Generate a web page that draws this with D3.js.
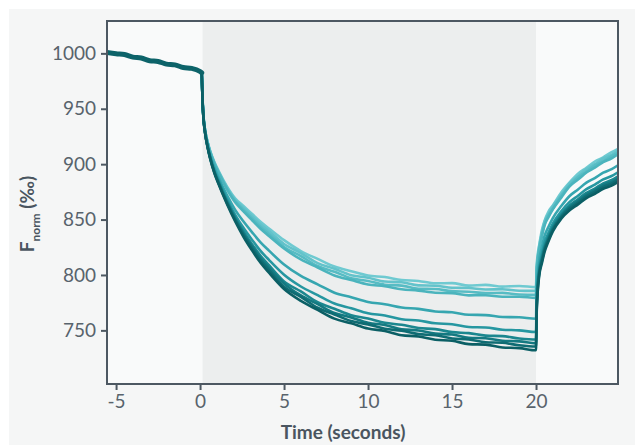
<!DOCTYPE html>
<html>
<head>
<meta charset="utf-8">
<script src="https://cdn.jsdelivr.net/npm/d3@7"></script>
<style>
  html, body { margin: 0; padding: 0; background: #fff; }
  svg { display: block; font-family: Lato, "Open Sans", sans-serif; }
</style>
</head>
<body>
<svg id="chart" width="635" height="445"></svg>
<script>
// MST traces, normalised fluorescence (per mille) over time

var xTicks = [-5, 0, 5, 10, 15, 20];
var yTicks = [750, 800, 850, 900, 950, 1000];

// heating window (IR laser on)
var shadeStart = 0.15,
    shadeEnd = 20;

// pre-heating part, all traces lie on top of each other here
var preTimes  = [-5.54, -5, -4.5, -4, -3.5, -3, -2.5, -2, -1.5, -1, -0.5, 0, 0.1];
var preValues = [1000.8, 999.6, 998.9, 996.6, 995.8, 993.4, 992.7, 990.3, 989.6, 987.2, 986.4, 983.6, 982.5];

// shared time points for the heating + recovery part
var times = [0.1, 0.15, 0.2, 0.3, 0.45, 0.6, 0.85, 1.1, 1.6, 2.1, 2.6, 3.1, 3.6, 4.1,
  5, 6, 7, 8, 9, 10, 11, 12, 13, 14, 15, 16, 17, 18, 19, 20,
  20.03, 20.1, 20.2, 20.35, 20.5, 20.75, 21, 21.5, 22, 22.5, 23, 23.5, 24, 24.5, 24.88];

// one trace per capillary, lightest first
var trace0 = [982, 958, 944, 931, 920, 912, 902, 894, 880, 869, 862, 855, 848, 842,
  831.4, 821.6, 814.5, 807.6, 803.4, 799.5, 798.1, 795.4, 794.6, 792.5, 792.6, 790.4, 791.1, 789.5, 790.1, 789,
  806, 818.5, 828, 840.5, 848.6, 857.4, 862.8, 874.5, 883.6, 891.4, 896.7, 902.4, 906.2, 910.8, 913.8];
var trace1 = [982, 957.9, 943.9, 930.8, 919.7, 911.6, 901.4, 893.3, 879, 867.7, 860.3, 853, 845.8, 839.6,
  828.0, 819.8, 810.7, 805.6, 799.8, 797.5, 794.1, 793.4, 790.6, 790.3, 788.5, 788.2, 786.9, 787.1, 785.7, 785.6,
  803.2, 815.6, 826.7, 837.9, 847.6, 855.1, 861.9, 872.2, 882.7, 889.1, 895.6, 900, 905.1, 908.4, 912.2];
var trace2 = [982, 957.8, 943.8, 930.6, 919.4, 911.2, 900.8, 892.6, 878.1, 866.5, 858.6, 851, 843.6, 837.2,
  825.3, 817.0, 808.1, 802.9, 797.0, 794.6, 791.2, 790.4, 787.6, 787.3, 785.4, 784.9, 783.6, 783.8, 782.4, 782.2,
  800.5, 814.3, 824.2, 836.8, 845.2, 854.2, 859.8, 871.5, 880.6, 888.1, 893.3, 898.9, 902.7, 907.3, 910.4];
var trace3 = [982, 957.7, 943.7, 930.5, 919.2, 910.8, 900.3, 892, 877.3, 865.4, 857.2, 849.4, 841.7, 835.2,
  823.9, 814.0, 806.7, 799.6, 795.4, 791.4, 789.8, 787.1, 785.9, 783.9, 783.6, 781.6, 781.7, 780.3, 780.4, 779.3,
  798.2, 812.1, 823.5, 834.8, 844.4, 852.3, 859.2, 869.8, 879.9, 886.1, 892.5, 896.9, 901.9, 905.2, 908.9];
var trace4 = [982, 957, 943, 929.5, 917.5, 908.5, 897, 888, 872, 858.5, 848, 838.5, 829.5, 822,
  809.4, 799.1, 791.5, 784.0, 779.9, 775.6, 773.6, 770.6, 769.4, 767.1, 766.3, 764.1, 763.8, 762.1, 761.8, 760.5,
  783, 801.2, 814.3, 825.2, 834.8, 843.7, 851.3, 862.2, 871.3, 877.2, 883.3, 887.5, 892.3, 895.5, 899];
var trace5 = [982, 956.6, 942.6, 928.9, 916.5, 907, 894.9, 885.5, 868.6, 854.1, 842.1, 831.6, 821.7, 813.6,
  800.2, 789.6, 781.8, 774.2, 770.0, 765.5, 763.5, 760.1, 758.9, 756.4, 755.5, 753.0, 752.6, 750.6, 750.0, 748.5,
  773.3, 794.3, 808.4, 819.1, 828.7, 838.2, 846.3, 857.4, 865.8, 871.5, 877.4, 881.5, 886.2, 889.3, 892.7];
var trace6 = [982, 956.3, 942.3, 928.5, 915.9, 906.2, 893.7, 884, 866.7, 851.6, 838.8, 827.6, 817.3, 808.8,
  794.1, 785.1, 775.4, 769.5, 763.6, 760.7, 756.8, 755.0, 752.1, 751.1, 748.4, 747.5, 745.3, 744.8, 742.7, 741.7,
  767.8, 790.3, 805.1, 815.6, 825.2, 835.1, 843.4, 854.6, 862.7, 868.3, 874.1, 878, 882.7, 885.7, 889.1];
var trace7 = [982, 956.2, 942.2, 928.3, 915.6, 905.8, 893.1, 883.3, 865.8, 850.3, 837.1, 825.6, 815.1, 806.4,
  792.2, 781.5, 773.6, 765.7, 761.7, 756.8, 754.8, 751.0, 749.9, 747.1, 746.2, 743.3, 742.9, 740.6, 740.1, 738.3,
  765.1, 788.3, 803.4, 813.9, 823.5, 833.6, 841.9, 853.2, 861.2, 866.7, 872.4, 876.3, 881, 883.9, 887.3];
var trace8 = [982, 956.1, 942.1, 928.2, 915.3, 905.4, 892.6, 882.7, 865, 849.3, 835.7, 824, 813.2, 804.4,
  789.3, 780.2, 770.4, 764.3, 758.4, 755.4, 751.5, 749.6, 746.6, 745.6, 742.7, 741.7, 739.3, 738.8, 736.5, 735.4,
  762.8, 786.7, 802, 812.4, 822, 832.3, 840.7, 852.1, 859.9, 865.3, 871, 874.9, 879.5, 882.5, 885.8];
var trace9 = [982, 956, 942, 928, 915, 905, 892, 882, 864, 848, 834, 822, 811, 802,
  787.3, 776.6, 768.5, 760.6, 756.4, 751.6, 749.5, 745.6, 744.5, 741.5, 740.6, 737.6, 737.1, 734.6, 734.0, 732,
  760, 784.7, 800.3, 810.7, 820.3, 830.7, 839.3, 850.7, 858.3, 863.7, 869.3, 873.2, 877.8, 880.7, 884];

var traces = [trace0, trace1, trace2, trace3, trace4, trace5, trace6, trace7, trace8, trace9];
var traceColors = ["#6fcad1", "#63c3cb", "#57bcc4", "#4bb4bd", "#36a6b0", "#2697a1",
                   "#1b878f", "#147981", "#0f6c73", "#0b5f65"];

var svg = d3.select("#chart");
var margin = {top: 21, right: 17, bottom: 61, left: 107};
var width = 635 - margin.left - margin.right,
    height = 445 - margin.top - margin.bottom;

// light grey card behind everything
svg.append("rect")
  .attr("x", 9).attr("y", 9)
  .attr("width", 635).attr("height", 436)
  .attr("fill", "#f5f6f6");

var x = d3.scaleLinear().domain([-5.54, 24.88]).range([0, width]);
var y = d3.scaleLinear().domain([701.6, 1029.2]).range([height, 0]);

var g = svg.append("g")
  .attr("transform", "translate(" + margin.left + "," + margin.top + ")");

g.append("rect")
  .attr("width", width).attr("height", height)
  .attr("fill", "#f9fafa");

g.append("rect")
  .attr("x", x(shadeStart)).attr("y", 0)
  .attr("width", x(shadeEnd) - x(shadeStart))
  .attr("height", height)
  .attr("fill", "#eceeee");

var line = d3.line()
  .x(d => x(d[0]))
  .y(d => y(d[1]))
  .curve(d3.curveMonotoneX);

g.append("clipPath").attr("id", "plotclip")
  .append("rect").attr("width", width).attr("height", height);

var plot = g.append("g").attr("clip-path", "url(#plotclip)");

traces.forEach(function(tr, i) {
  plot.append("path")
    .datum(times.map((t, j) => [t, tr[j]]))
    .attr("fill", "none")
    .attr("stroke", traceColors[i])
    .attr("stroke-width", 2.6)
    .attr("stroke-linejoin", "round")
    .attr("d", line);
});

plot.append("path")
  .datum(preTimes.map((t, j) => [t, preValues[j]]))
  .attr("fill", "none")
  .attr("stroke", "#0d6369")
  .attr("stroke-width", 5)
  .attr("stroke-linecap", "round")
  .attr("d", line);

// axes
var frameColor = "#4d5862";
var plain = d => String(d);   // "-5" with a hyphen, "1000" without comma
var xAxis = g.append("g")
  .attr("transform", "translate(0," + height + ")")
  .call(d3.axisBottom(x).tickValues(xTicks).tickFormat(plain).tickSize(6).tickPadding(5));
var yAxis = g.append("g")
  .call(d3.axisLeft(y).tickValues(yTicks).tickFormat(plain).tickSize(6).tickPadding(5));

[xAxis, yAxis].forEach(function(ax) {
  ax.select(".domain").remove();
  ax.selectAll("line").attr("stroke", frameColor).attr("stroke-width", 2);
  ax.selectAll("text")
    .attr("fill", "#58636c")
    .style("font-size", "19px")
    .style("font-family", "Lato, sans-serif");
});

g.append("rect")
  .attr("width", width).attr("height", height)
  .attr("fill", "none")
  .attr("stroke", frameColor)
  .attr("stroke-width", 2);

// axis titles
svg.append("text")
  .attr("x", 343).attr("y", 439)
  .attr("text-anchor", "middle")
  .attr("fill", "#4a5560")
  .style("font-size", "19px")
  .style("font-weight", "bold")
  .text("Time (seconds)");

var ylab = svg.append("text")
  .attr("transform", "translate(34,214) rotate(-90)")
  .attr("text-anchor", "middle")
  .attr("fill", "#4a5560")
  .style("font-size", "19px")
  .style("font-weight", "bold");
ylab.append("tspan").text("F");
ylab.append("tspan").attr("dy", 6).style("font-size", "12px").text("norm");
ylab.append("tspan").attr("dy", -6).text(" (‰)");
</script>
</body>
</html>
